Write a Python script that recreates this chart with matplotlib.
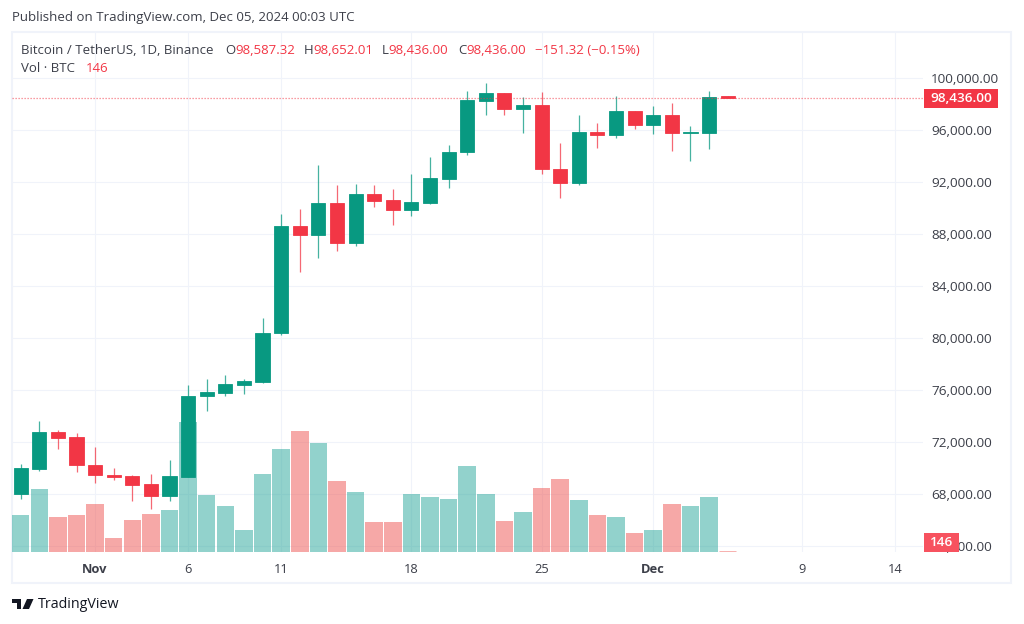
import numpy as np
import matplotlib
matplotlib.use("agg")
import matplotlib.pyplot as plt
from matplotlib.patches import Rectangle, Polygon

W, H = 1024, 624
plt.rcParams["font.family"] = ["Open Sans", "DejaVu Sans"]

# -- daily candles, Oct 28 .. Dec 5 --
opens = [68000, 69900, 72746, 72362, 70254, 69485, 69362, 68769, 67823, 69308,
         75515, 75769, 76408, 76638, 80362, 88638, 87923, 90385, 87285, 91054,
         90592, 89823, 90408, 92231, 94285, 98254, 98869, 97592, 97900, 93000,
         91923, 95869, 95592, 97438, 96362, 97177, 95746, 95769, 98587.32]
highs = [70285, 73615, 72946, 72692, 71638, 69977, 69438, 69515, 70615, 76385,
         76846, 77177, 76869, 81515, 89538, 89923, 93285, 91746, 91846, 91746,
         91438, 92615, 93900, 94846, 99000, 99592, 98869, 98562, 98900, 94977,
         97177, 96515, 98615, 97438, 97846, 98100, 96285, 99000, 98652.01]
lows = [67615, 69792, 71462, 69715, 68869, 69054, 67485, 66823, 67485, 69308,
        74408, 75562, 75715, 76515, 80208, 85100, 86177, 86669, 87100, 90077,
        88715, 89362, 90331, 91515, 94054, 97154, 97154, 95746, 92638, 90792,
        91792, 94638, 95385, 96100, 95692, 94408, 93615, 94562, 98436.00]
closes = [69977, 72746, 72331, 70231, 69462, 69308, 68715, 67823, 69362, 75562,
          75823, 76485, 76692, 80408, 88638, 87923, 90385, 87285, 91054, 90538,
          89823, 90462, 92285, 94308, 98285, 98869, 97592, 97900, 92977, 91923,
          95869, 95592, 97438, 96362, 97177, 95769, 95823, 98562, 98436.00]
volumes = [26180, 43890, 24290, 26180, 33880, 10080, 22680, 26880, 29680, 90790,
           39900, 32480, 15400, 54600, 71890, 84980, 76090, 49980, 42000, 20790,
           21280, 40880, 38500, 37380, 60480, 40880, 21980, 27790, 45080, 51100,
           36680, 25900, 24780, 13580, 15400, 33880, 31990, 38500, 146]

price_ticks = [64000, 68000, 72000, 76000, 80000, 84000, 88000, 92000, 96000, 100000]
date_ticks = [4, 9, 14, 21, 28, 34, 42, 47]
date_labels = ["Nov", "6", "11", "18", "25", "Dec", "9", "14"]

UP, DOWN = "#089981", "#f23645"
VOL_UP, VOL_DOWN = "#26a69a", "#ef5350"
GRID = "#f0f3fa"
TEXT = "#3c3f49"
FS = 9.55


def fx(x):
    return x / W


def fy(y):
    return 1 - y / H


fig = plt.figure(figsize=(W / 100, H / 100), dpi=100, facecolor="white")

# chart pane in pixels: x 12..923, y 32..552
ax = fig.add_axes([fx(12), fy(552), (923 - 12) / W, (552 - 32) / H])
ax_vol = ax.twinx()
ax_c = ax.twinx()
ax.set_zorder(1)
ax_vol.set_zorder(2)
ax_c.set_zorder(3)

xs = np.arange(len(opens))
o, h, l, c = map(np.array, (opens, highs, lows, closes))
is_up = c >= o

xlim = (-0.468, 48.5)
ylim = (63538, 103538)
for a in (ax, ax_vol, ax_c):
    a.set_xlim(*xlim)
    for s in a.spines.values():
        s.set_visible(False)
    a.patch.set_visible(False)
ax.set_ylim(*ylim)
ax_c.set_ylim(*ylim)
ax_vol.set_ylim(0, 364000)
ax_vol.set_yticks([])
ax_c.set_yticks([])

# grid + scales
ax.set_yticks(price_ticks)
ax.set_yticklabels([f"{p:,.2f}" for p in price_ticks], fontsize=9.7, color=TEXT)
ax.yaxis.tick_right()
ax.tick_params(axis="y", length=0, pad=6)
ax.set_xticks(date_ticks)
ax.set_xticklabels(date_labels, fontsize=9.3, color=TEXT)
ax.tick_params(axis="x", length=0, pad=8)
for lbl in ax.get_xticklabels():
    if lbl.get_text() in ("Nov", "Dec"):
        lbl.set_fontweight("bold")
ax.grid(True, color=GRID, lw=0.8)
ax.set_axisbelow(True)

# volume
vol_cols = [VOL_UP if u else VOL_DOWN for u in is_up]
ax_vol.bar(xs[:-1], volumes[:-1], width=0.94, color=vol_cols[:-1], alpha=0.5, lw=0)
# last bar is only 146 BTC, the edge keeps it visible
ax_vol.bar(xs[-1:], volumes[-1:], width=0.94, color=VOL_DOWN, alpha=0.5,
           edgecolor=VOL_DOWN, lw=2.0)

# candles
cols = [UP if u else DOWN for u in is_up]
ax_c.vlines(xs, l, h, colors=cols, lw=0.9, alpha=0.75)
ax_c.bar(xs, np.abs(c - o), bottom=np.minimum(o, c), width=0.76, color=cols,
         edgecolor=cols, lw=0.6)

# last price line and scale labels
ax_c.axhline(closes[-1], color=DOWN, lw=0.9, ls=(0, (1, 1.4)), alpha=0.65)

fig.add_artist(Rectangle((fx(924), fy(108)), 74 / W, 19 / H, facecolor=DOWN, lw=0, zorder=10))
fig.text(fx(961), fy(98.5), f"{closes[-1]:,.2f}", color="white", fontsize=9.7,
         ha="center", va="center", fontweight="semibold", zorder=11)
fig.add_artist(Rectangle((fx(924), fy(552)), 35 / W, 19 / H, facecolor="#f7525f", lw=0, zorder=10))
fig.text(fx(941.5), fy(542.5), f"{volumes[-1]}", color="white", fontsize=9.7,
         ha="center", va="center", fontweight="semibold", zorder=11)

# pane border
fig.add_artist(Rectangle((fx(12), fy(583)), (1011 - 12) / W, (583 - 32) / H,
                         fill=False, edgecolor=GRID, lw=1.5, zorder=0))

# header / legend
fig.text(fx(12), fy(18), "Published on TradingView.com, Dec 05, 2024 00:03 UTC",
         color=TEXT, fontsize=FS, va="center")
fig.text(fx(21), fy(50), "Bitcoin / TetherUS, 1D, Binance", color=TEXT, fontsize=FS, va="center")
legend_bits = [(225, "O", TEXT), (235, f"{opens[-1]:,.2f}", DOWN),
               (304, "H", TEXT), (313, f"{highs[-1]:,.2f}", DOWN),
               (382, "L", TEXT), (388, f"{lows[-1]:,.2f}", DOWN),
               (458, "C", TEXT), (466, f"{closes[-1]:,.2f}", DOWN),
               (535, "\u2212151.32 (\u22120.15%)", DOWN)]
for px, txt, col in legend_bits:
    fig.text(fx(px), fy(50), txt, color=col, fontsize=FS, va="center")
fig.text(fx(21), fy(69), "Vol \u00b7 BTC", color=TEXT, fontsize=FS, va="center")
fig.text(fx(86), fy(69), f"{volumes[-1]}", color=DOWN, fontsize=FS, va="center")

# TradingView logo
LOGO = "#131722"
fig.add_artist(Polygon([(fx(12), fy(599)), (fx(21), fy(599)), (fx(21), fy(609)), (fx(17), fy(609)),
                        (fx(17), fy(603)), (fx(12), fy(603))], closed=True, color=LOGO, lw=0))
fig.add_artist(Polygon([(fx(27), fy(599)), (fx(33.5), fy(599)), (fx(29), fy(609)), (fx(22.5), fy(609))],
                       closed=True, color=LOGO, lw=0))
fig.text(fx(38), fy(604), "TradingView", color=LOGO, fontsize=10.3, va="center")

fig.savefig("out.png", dpi=100)
